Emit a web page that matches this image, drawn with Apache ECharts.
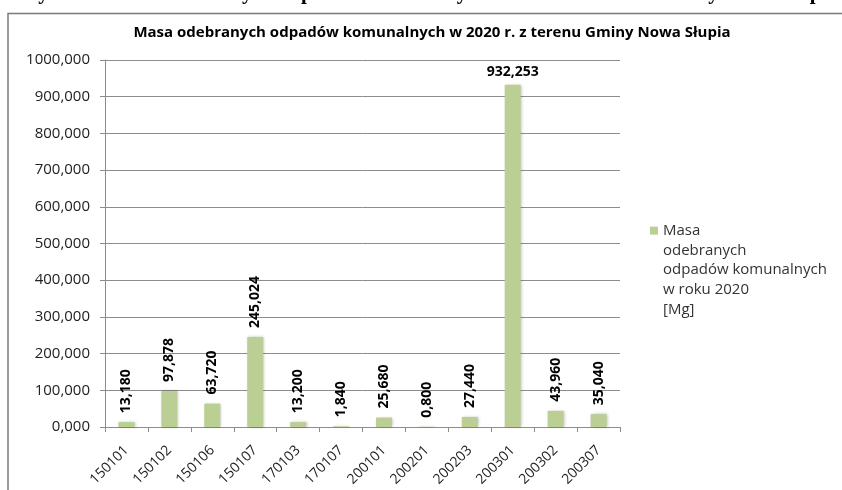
<!DOCTYPE html>
<html>
<head>
<meta charset="utf-8">
<script src="https://cdn.jsdelivr.net/npm/echarts@6/dist/echarts.min.js"></script>
<style>
  html, body { margin: 0; padding: 0; background: #fff; }
  #chart { width: 842px; height: 490px; }
</style>
</head>
<body>
<div id="chart"></div>
<script>
// data
var categories = ['150101', '150102', '150106', '150107', '170103', '170107',
  '200101', '200201', '200203', '200301', '200302', '200307'];
var masses = [13.180, 97.878, 63.720, 245.024, 13.200, 1.840,
  25.680, 0.800, 27.440, 932.253, 43.960, 35.040];
var seriesName = 'Masa odebranych odpadów komunalnych w roku 2020 [Mg]';
var legendLines = ['Masa', 'odebranych', 'odpadów komunalnych', 'w roku 2020', '[Mg]'];
var chartTitle = 'Masa odebranych odpadów komunalnych w 2020 r. z terenu Gminy Nowa Słupia';
var captionText = 'Wykres 1. Masa odebranych odpadów komunalnych w 2020 r. z terenu Gminy Nowa Słupia';
var yTicks = { min: 0, max: 1000, interval: 100 };

var font = '"Open Sans", sans-serif';
var barColor = '#bbcf95';
var gridColor = '#8c8c8c';

function fmt(v) {
  return Number(v).toFixed(3).replace('.', ',');
}

var chart = echarts.init(document.getElementById('chart'));

// the tallest bar has its label written flat above it
var barData = masses.map(function (v, i) {
  var item = { value: v };
  if (v > 500) {
    item.label = { rotate: 0, align: 'center', verticalAlign: 'bottom', distance: 6 };
  }
  return item;
});

// blank lines above so the legend marker sits next to the first line
var legendText = ['', '', '', ''].concat(legendLines).join('\n');

var option = {
  backgroundColor: '#ffffff',
  animation: false,
  title: {
    text: chartTitle,
    left: 427,
    textAlign: 'center',
    top: 20,
    textStyle: { fontFamily: font, fontSize: 15, fontWeight: 'bold', color: '#000' }
  },
  legend: {
    data: [seriesName],
    left: 650,
    top: 142,
    padding: 0,
    itemWidth: 8,
    itemHeight: 8,
    itemGap: 4,
    icon: 'rect',
    formatter: function () { return legendText; },
    textStyle: {
      fontFamily: font, fontSize: 15, color: '#333', lineHeight: 19.7
    }
  },
  grid: { left: 105, right: 222, top: 60, bottom: 63, containLabel: false },
  xAxis: {
    type: 'category',
    data: categories,
    axisLine: { lineStyle: { color: gridColor, width: 1 } },
    axisTick: { show: true, length: 5, lineStyle: { color: gridColor } },
    axisLabel: {
      rotate: 45, margin: 21, interval: 0,
      fontFamily: font, fontSize: 14, color: '#222'
    }
  },
  yAxis: {
    type: 'value',
    min: yTicks.min,
    max: yTicks.max,
    interval: yTicks.interval,
    axisLine: { show: true, lineStyle: { color: gridColor, width: 1 } },
    axisTick: { show: true, length: 5, lineStyle: { color: gridColor } },
    splitLine: { lineStyle: { color: gridColor, width: 1 } },
    axisLabel: {
      margin: 15, fontFamily: font, fontSize: 15, color: '#222',
      formatter: fmt
    }
  },
  series: [{
    name: seriesName,
    type: 'bar',
    data: barData,
    barWidth: 16,
    itemStyle: {
      color: barColor,
      shadowColor: 'rgba(0,0,0,0.25)',
      shadowBlur: 3,
      shadowOffsetX: 1,
      shadowOffsetY: 0
    },
    label: {
      show: true,
      position: 'top',
      rotate: 90,
      align: 'left',
      verticalAlign: 'middle',
      distance: 9,
      fontFamily: font,
      fontSize: 14,
      fontWeight: 'bold',
      color: '#000',
      formatter: function (p) { return fmt(p.value); }
    }
  }],
  graphic: [
    {
      type: 'text',
      x: 18,
      y: 4.5,
      silent: true,
      style: {
        text: captionText,
        font: 'bold 21px "Liberation Serif", serif',
        verticalAlign: 'bottom',
        fill: '#000'
      }
    },
    {
      type: 'rect',
      silent: true,
      shape: { x: 8, y: 13.5, width: 900, height: 600 },
      style: { fill: '#fff', stroke: '#7a7a7a', lineWidth: 1.5 },
      z: -10
    }
  ]
};

chart.setOption(option);
</script>
</body>
</html>
